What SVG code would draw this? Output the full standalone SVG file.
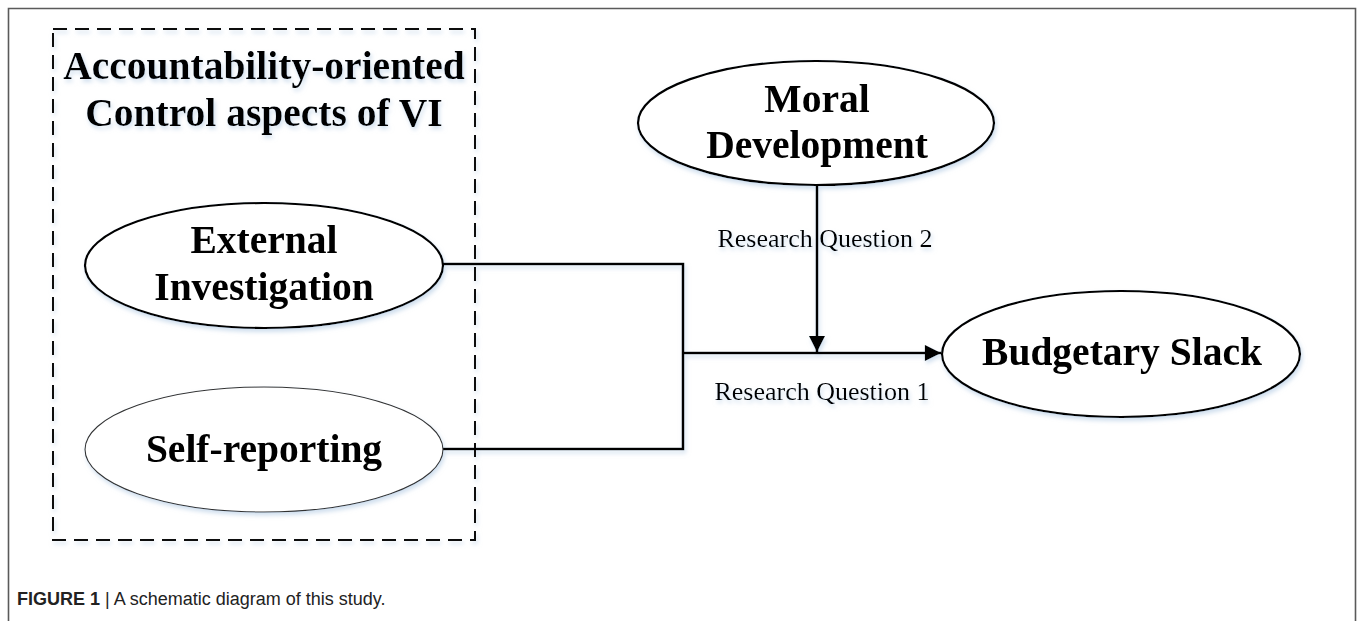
<svg xmlns="http://www.w3.org/2000/svg" width="1357" height="621" viewBox="0 0 1357 621">
<defs>
<style>
.bold{font-family:"Liberation Serif","Times New Roman",serif;font-weight:bold;font-size:39.5px;fill:#000;text-anchor:middle}
.reg{font-family:"Liberation Serif","Times New Roman",serif;font-size:26px;fill:#000;text-anchor:middle}
.node{fill:#fff;stroke:#000;stroke-width:2.2}
.thin{fill:#fff;stroke:#333;stroke-width:1.1}
.conn{fill:none;stroke:#000;stroke-width:2.6}
.cap{font-family:"Liberation Sans",Arial,sans-serif;font-size:18px;fill:#222}
</style>
<filter id="sh" x="-10%" y="-10%" width="120%" height="130%">
<feDropShadow dx="1.5" dy="3" stdDeviation="2" flood-color="#a9c4e0" flood-opacity="0.55"/>
</filter>
<marker id="ah" viewBox="0 0 10 10" refX="10" refY="5" markerWidth="7" markerHeight="6.2" markerUnits="strokeWidth" orient="auto">
<path d="M0,0 L10,5 L0,10 Z" fill="#000"/>
</marker>
</defs>
<rect width="1357" height="621" fill="#fff"/>
<path d="M8.5,640 V8.5 H1355.5 V640" fill="none" stroke="#5a5a5a" stroke-width="1.6"/>
<g filter="url(#sh)">
<g id="group-box">
<rect x="53" y="29" width="422" height="511" fill="none" stroke="#111" stroke-width="2" stroke-dasharray="14 8"/>
<text class="bold" x="264" y="79">Accountability-oriented</text>
<text class="bold" x="264" y="126">Control aspects of VI</text>
</g>
<g id="connectors">
<polyline class="conn" points="443,264 683,264 683,449 443,449"/>
<line class="conn" x1="683" y1="353" x2="941" y2="353" marker-end="url(#ah)"/>
<line class="conn" x1="817" y1="185" x2="817" y2="352" marker-end="url(#ah)"/>
<text class="reg" x="825" y="247">Research Question 2</text>
<text class="reg" x="822" y="400">Research Question 1</text>
</g>
<g id="node-external">
<ellipse class="node" cx="264" cy="265.5" rx="179" ry="62.5"/>
<text class="bold" x="264" y="253">External</text>
<text class="bold" x="264" y="300">Investigation</text>
</g>
<g id="node-self">
<ellipse class="thin" cx="264" cy="449.5" rx="179" ry="62.5"/>
<text class="bold" x="264" y="462">Self-reporting</text>
</g>
<g id="node-moral">
<ellipse class="node" cx="816" cy="123" rx="178" ry="62"/>
<text class="bold" x="817" y="112">Moral</text>
<text class="bold" x="817" y="158">Development</text>
</g>
<g id="node-budget">
<ellipse class="node" cx="1121" cy="354" rx="179" ry="63"/>
<text class="bold" x="1122" y="365">Budgetary Slack</text>
</g>
</g>
<text class="cap" x="17" y="605"><tspan font-weight="bold">FIGURE 1</tspan> | A schematic diagram of this study.</text>
</svg>
